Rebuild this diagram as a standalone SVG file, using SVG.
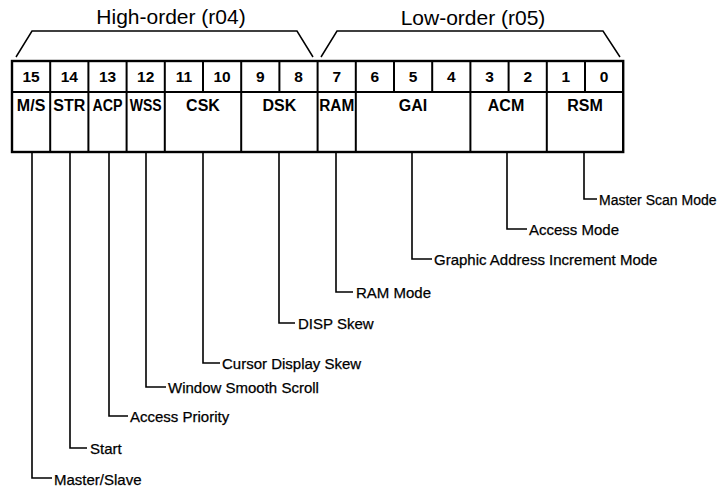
<svg xmlns="http://www.w3.org/2000/svg" width="722" height="491" viewBox="0 0 722 491">
<style>
.t{font-family:"Liberation Sans",Arial,sans-serif;fill:#000}
.title{font-size:21px;text-anchor:middle}
.num{font-size:15.5px;font-weight:bold;text-anchor:middle}
.lab{font-size:16px;font-weight:bold;text-anchor:middle}
.desc{font-size:15px;stroke:#000;stroke-width:0.25}
.box{fill:#fff;stroke:#000;stroke-width:2.4}
.div{stroke:#000;stroke-width:2;fill:none}
.br{stroke:#000;stroke-width:1.5;fill:none}
.con{stroke:#000;stroke-width:1.6;fill:none}
</style>
<rect width="722" height="491" fill="#fff"/>
<g id="brackets">
<polyline class="br" points="16,57 32,31 297,31 313,57"/>
<polyline class="br" points="321,57 337,31 603,31 620,57"/>
<text class="t title" x="171" y="24">High-order (r04)</text>
<text class="t title" x="473" y="25">Low-order (r05)</text>
</g>
<g id="register">
<rect class="box" x="12" y="61" width="611.2" height="91"/>
<line class="div" x1="12" y1="92" x2="623.2" y2="92"/>
<path class="div" d="M50.2,61V152M88.4,61V152M126.6,61V152M164.8,61V152M203,61V92M241.2,61V152M279.4,61V92M317.6,61V152M355.8,61V152M394,61V92M432.2,61V92M470.4,61V152M508.6,61V92M546.8,61V152M585,61V92"/>
<g class="t num">
<text x="31.1" y="82">15</text><text x="69.3" y="82">14</text><text x="107.5" y="82">13</text><text x="145.7" y="82">12</text>
<text x="183.9" y="82">11</text><text x="222.1" y="82">10</text><text x="260.3" y="82">9</text><text x="298.5" y="82">8</text>
<text x="336.7" y="82">7</text><text x="374.9" y="82">6</text><text x="413.1" y="82">5</text><text x="451.3" y="82">4</text>
<text x="489.5" y="82">3</text><text x="527.7" y="82">2</text><text x="565.9" y="82">1</text><text x="604.1" y="82">0</text>
</g>
</g>
<g id="MS"><text class="t lab" x="31.1" y="111">M/S</text><text class="t desc" x="54" y="485">Master/Slave</text></g>
<g id="STR"><text class="t lab" x="69.3" y="111" textLength="32" lengthAdjust="spacingAndGlyphs">STR</text><text class="t desc" x="90" y="454">Start</text></g>
<g id="ACP"><text class="t lab" x="107.5" y="111" textLength="30" lengthAdjust="spacingAndGlyphs">ACP</text><text class="t desc" x="130" y="422">Access Priority</text></g>
<g id="WSS"><text class="t lab" x="145.7" y="111" textLength="32" lengthAdjust="spacingAndGlyphs">WSS</text><text class="t desc" x="168" y="393">Window Smooth Scroll</text></g>
<g id="CSK"><text class="t lab" x="203" y="111">CSK</text><text class="t desc" x="222" y="369">Cursor Display Skew</text></g>
<g id="DSK"><text class="t lab" x="279.4" y="111">DSK</text><text class="t desc" x="298" y="329">DISP Skew</text></g>
<g id="RAM"><text class="t lab" x="336.7" y="111" textLength="35" lengthAdjust="spacingAndGlyphs">RAM</text><text class="t desc" x="356" y="298">RAM Mode</text></g>
<g id="GAI"><text class="t lab" x="413.1" y="111">GAI</text><text class="t desc" x="434" y="265">Graphic Address Increment Mode</text></g>
<g id="ACM"><text class="t lab" x="506" y="111">ACM</text><text class="t desc" x="529" y="235">Access Mode</text></g>
<g id="RSM"><text class="t lab" x="585" y="111">RSM</text><text class="t desc" x="599" y="205" style="font-size:14px">Master Scan Mode</text></g>
<g id="connectors">
<path class="con" d="M32,152V478H52"/>
<path class="con" d="M70,152V448H87"/>
<path class="con" d="M109,152V416H128"/>
<path class="con" d="M146,152V387H166"/>
<path class="con" d="M203,152V363H220"/>
<path class="con" d="M279,152V323H295"/>
<path class="con" d="M336,152V292H353"/>
<path class="con" d="M412,152V259H432"/>
<path class="con" d="M507,152V229H527"/>
<path class="con" d="M584,152V199H597"/>
</g>
</svg>
